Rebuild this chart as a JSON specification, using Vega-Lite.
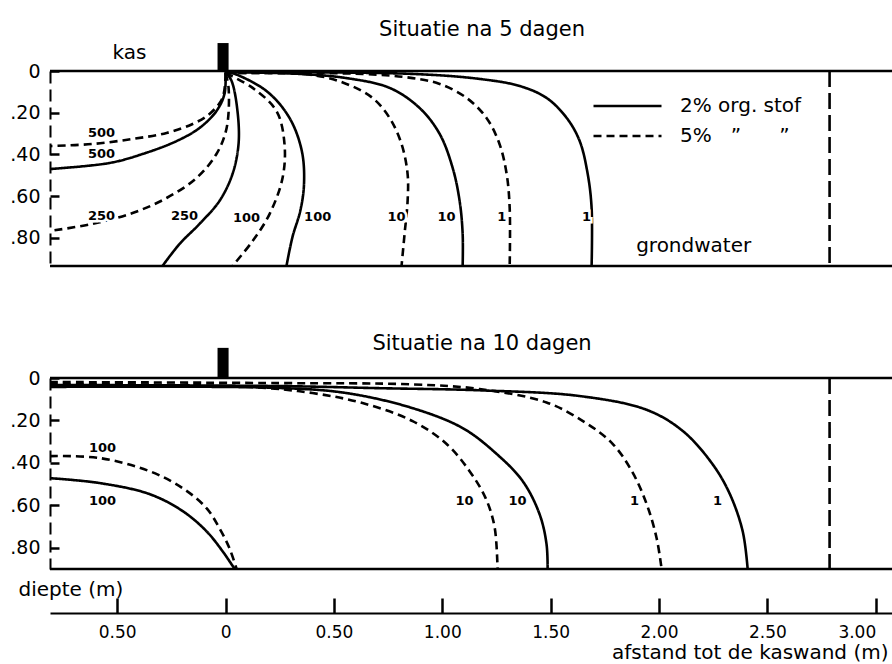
{
  "$schema": "https://vega.github.io/schema/vega-lite/v6.json",
  "background": "white",
  "padding": {"left": 9, "top": 19, "right": 0, "bottom": 0},
  "spacing": 60,
  "config": {
    "font": "DejaVu Sans",
    "view": {"stroke": null},
    "axis": {"labelFont": "DejaVu Sans", "labelColor": "black", "domainColor": "black", "tickColor": "black", "grid": false, "titleColor": "black", "titleFont": "DejaVu Sans", "titleFontWeight": "normal", "ticks": true},
    "legend": {"labelFont": "DejaVu Sans", "labelColor": "black"},
    "title": {"font": "DejaVu Sans", "fontWeight": "normal", "color": "black"}
  },
  "resolve": {"scale": {"strokeDash": "independent"}, "legend": {"strokeDash": "independent"}},
  "datasets": {
    "c5": [
      {"conc": "500", "org": "2%", "i": 0, "x": 0, "y": 0.005},
      {"conc": "500", "org": "2%", "i": 1, "x": -0.005, "y": 0.110},
      {"conc": "500", "org": "2%", "i": 2, "x": -0.042, "y": 0.192},
      {"conc": "500", "org": "2%", "i": 3, "x": -0.12, "y": 0.273},
      {"conc": "500", "org": "2%", "i": 4, "x": -0.226, "y": 0.336},
      {"conc": "500", "org": "2%", "i": 5, "x": -0.383, "y": 0.398},
      {"conc": "500", "org": "2%", "i": 6, "x": -0.535, "y": 0.441},
      {"conc": "500", "org": "2%", "i": 7, "x": -0.81, "y": 0.470},
      {"conc": "500", "org": "5%", "i": 0, "x": 0, "y": 0.010},
      {"conc": "500", "org": "5%", "i": 1, "x": -0.014, "y": 0.129},
      {"conc": "500", "org": "5%", "i": 2, "x": -0.074, "y": 0.206},
      {"conc": "500", "org": "5%", "i": 3, "x": -0.152, "y": 0.254},
      {"conc": "500", "org": "5%", "i": 4, "x": -0.272, "y": 0.297},
      {"conc": "500", "org": "5%", "i": 5, "x": -0.429, "y": 0.326},
      {"conc": "500", "org": "5%", "i": 6, "x": -0.614, "y": 0.350},
      {"conc": "500", "org": "5%", "i": 7, "x": -0.81, "y": 0.360},
      {"conc": "250", "org": "2%", "i": 0, "x": 0, "y": 0.005},
      {"conc": "250", "org": "2%", "i": 1, "x": 0.028, "y": 0.048},
      {"conc": "250", "org": "2%", "i": 2, "x": 0.055, "y": 0.192},
      {"conc": "250", "org": "2%", "i": 3, "x": 0.060, "y": 0.350},
      {"conc": "250", "org": "2%", "i": 4, "x": 0.032, "y": 0.494},
      {"conc": "250", "org": "2%", "i": 5, "x": -0.028, "y": 0.623},
      {"conc": "250", "org": "2%", "i": 6, "x": -0.120, "y": 0.733},
      {"conc": "250", "org": "2%", "i": 7, "x": -0.212, "y": 0.829},
      {"conc": "250", "org": "2%", "i": 8, "x": -0.291, "y": 0.935},
      {"conc": "250", "org": "5%", "i": 0, "x": 0, "y": 0.010},
      {"conc": "250", "org": "5%", "i": 1, "x": 0.014, "y": 0.081},
      {"conc": "250", "org": "5%", "i": 2, "x": 0.005, "y": 0.273},
      {"conc": "250", "org": "5%", "i": 3, "x": -0.042, "y": 0.398},
      {"conc": "250", "org": "5%", "i": 4, "x": -0.134, "y": 0.513},
      {"conc": "250", "org": "5%", "i": 5, "x": -0.272, "y": 0.609},
      {"conc": "250", "org": "5%", "i": 6, "x": -0.429, "y": 0.681},
      {"conc": "250", "org": "5%", "i": 7, "x": -0.614, "y": 0.733},
      {"conc": "250", "org": "5%", "i": 8, "x": -0.81, "y": 0.767},
      {"conc": "100", "org": "2%", "i": 0, "x": 0, "y": 0.005},
      {"conc": "100", "org": "2%", "i": 1, "x": 0.032, "y": 0.010},
      {"conc": "100", "org": "2%", "i": 2, "x": 0.189, "y": 0.096},
      {"conc": "100", "org": "2%", "i": 3, "x": 0.295, "y": 0.225},
      {"conc": "100", "org": "2%", "i": 4, "x": 0.352, "y": 0.384},
      {"conc": "100", "org": "2%", "i": 5, "x": 0.362, "y": 0.542},
      {"conc": "100", "org": "2%", "i": 6, "x": 0.345, "y": 0.670},
      {"conc": "100", "org": "2%", "i": 7, "x": 0.309, "y": 0.795},
      {"conc": "100", "org": "2%", "i": 8, "x": 0.281, "y": 0.935},
      {"conc": "100", "org": "5%", "i": 0, "x": 0, "y": 0.010},
      {"conc": "100", "org": "5%", "i": 1, "x": 0.125, "y": 0.081},
      {"conc": "100", "org": "5%", "i": 2, "x": 0.235, "y": 0.192},
      {"conc": "100", "org": "5%", "i": 3, "x": 0.272, "y": 0.350},
      {"conc": "100", "org": "5%", "i": 4, "x": 0.263, "y": 0.513},
      {"conc": "100", "org": "5%", "i": 5, "x": 0.203, "y": 0.686},
      {"conc": "100", "org": "5%", "i": 6, "x": 0.125, "y": 0.815},
      {"conc": "100", "org": "5%", "i": 7, "x": 0.032, "y": 0.935},
      {"conc": "10", "org": "2%", "i": 0, "x": 0, "y": 0.005},
      {"conc": "10", "org": "2%", "i": 1, "x": 0.341, "y": 0.014},
      {"conc": "10", "org": "2%", "i": 2, "x": 0.558, "y": 0.034},
      {"conc": "10", "org": "2%", "i": 3, "x": 0.757, "y": 0.081},
      {"conc": "10", "org": "2%", "i": 4, "x": 0.895, "y": 0.177},
      {"conc": "10", "org": "2%", "i": 5, "x": 0.988, "y": 0.302},
      {"conc": "10", "org": "2%", "i": 6, "x": 1.048, "y": 0.465},
      {"conc": "10", "org": "2%", "i": 7, "x": 1.080, "y": 0.623},
      {"conc": "10", "org": "2%", "i": 8, "x": 1.094, "y": 0.781},
      {"conc": "10", "org": "2%", "i": 9, "x": 1.094, "y": 0.935},
      {"conc": "10", "org": "5%", "i": 0, "x": 0, "y": 0.010},
      {"conc": "10", "org": "5%", "i": 1, "x": 0.401, "y": 0.019},
      {"conc": "10", "org": "5%", "i": 2, "x": 0.558, "y": 0.062},
      {"conc": "10", "org": "5%", "i": 3, "x": 0.678, "y": 0.129},
      {"conc": "10", "org": "5%", "i": 4, "x": 0.757, "y": 0.225},
      {"conc": "10", "org": "5%", "i": 5, "x": 0.812, "y": 0.350},
      {"conc": "10", "org": "5%", "i": 6, "x": 0.840, "y": 0.494},
      {"conc": "10", "org": "5%", "i": 7, "x": 0.840, "y": 0.623},
      {"conc": "10", "org": "5%", "i": 8, "x": 0.826, "y": 0.781},
      {"conc": "10", "org": "5%", "i": 9, "x": 0.812, "y": 0.935},
      {"conc": "1", "org": "2%", "i": 0, "x": 0, "y": 0.005},
      {"conc": "1", "org": "2%", "i": 1, "x": 0.863, "y": 0.014},
      {"conc": "1", "org": "2%", "i": 2, "x": 1.172, "y": 0.038},
      {"conc": "1", "org": "2%", "i": 3, "x": 1.357, "y": 0.072},
      {"conc": "1", "org": "2%", "i": 4, "x": 1.481, "y": 0.129},
      {"conc": "1", "org": "2%", "i": 5, "x": 1.574, "y": 0.225},
      {"conc": "1", "org": "2%", "i": 6, "x": 1.634, "y": 0.336},
      {"conc": "1", "org": "2%", "i": 7, "x": 1.671, "y": 0.494},
      {"conc": "1", "org": "2%", "i": 8, "x": 1.689, "y": 0.657},
      {"conc": "1", "org": "2%", "i": 9, "x": 1.689, "y": 0.935},
      {"conc": "1", "org": "5%", "i": 0, "x": 0, "y": 0.010},
      {"conc": "1", "org": "5%", "i": 1, "x": 0.632, "y": 0.014},
      {"conc": "1", "org": "5%", "i": 2, "x": 0.863, "y": 0.034},
      {"conc": "1", "org": "5%", "i": 3, "x": 0.988, "y": 0.062},
      {"conc": "1", "org": "5%", "i": 4, "x": 1.112, "y": 0.129},
      {"conc": "1", "org": "5%", "i": 5, "x": 1.204, "y": 0.225},
      {"conc": "1", "org": "5%", "i": 6, "x": 1.264, "y": 0.350},
      {"conc": "1", "org": "5%", "i": 7, "x": 1.297, "y": 0.494},
      {"conc": "1", "org": "5%", "i": 8, "x": 1.311, "y": 0.657},
      {"conc": "1", "org": "5%", "i": 9, "x": 1.311, "y": 0.935}
    ],
    "c10": [
      {"conc": "100", "org": "2%", "i": 0, "x": -0.81, "y": 0.472},
      {"conc": "100", "org": "2%", "i": 1, "x": -0.581, "y": 0.495},
      {"conc": "100", "org": "2%", "i": 2, "x": -0.351, "y": 0.547},
      {"conc": "100", "org": "2%", "i": 3, "x": -0.198, "y": 0.627},
      {"conc": "100", "org": "2%", "i": 4, "x": -0.088, "y": 0.722},
      {"conc": "100", "org": "2%", "i": 5, "x": -0.014, "y": 0.816},
      {"conc": "100", "org": "2%", "i": 6, "x": 0.042, "y": 0.90},
      {"conc": "100", "org": "5%", "i": 0, "x": -0.81, "y": 0.368},
      {"conc": "100", "org": "5%", "i": 1, "x": -0.581, "y": 0.377},
      {"conc": "100", "org": "5%", "i": 2, "x": -0.351, "y": 0.439},
      {"conc": "100", "org": "5%", "i": 3, "x": -0.198, "y": 0.519},
      {"conc": "100", "org": "5%", "i": 4, "x": -0.088, "y": 0.613},
      {"conc": "100", "org": "5%", "i": 5, "x": -0.028, "y": 0.708},
      {"conc": "100", "org": "5%", "i": 6, "x": 0.018, "y": 0.802},
      {"conc": "100", "org": "5%", "i": 7, "x": 0.051, "y": 0.90},
      {"conc": "10", "org": "2%", "i": 0, "x": -0.81, "y": 0.042},
      {"conc": "10", "org": "2%", "i": 1, "x": 0.249, "y": 0.047},
      {"conc": "10", "org": "2%", "i": 2, "x": 0.558, "y": 0.071},
      {"conc": "10", "org": "2%", "i": 3, "x": 0.863, "y": 0.142},
      {"conc": "10", "org": "2%", "i": 4, "x": 1.094, "y": 0.236},
      {"conc": "10", "org": "2%", "i": 5, "x": 1.251, "y": 0.358},
      {"conc": "10", "org": "2%", "i": 6, "x": 1.371, "y": 0.486},
      {"conc": "10", "org": "2%", "i": 7, "x": 1.449, "y": 0.642},
      {"conc": "10", "org": "2%", "i": 8, "x": 1.481, "y": 0.783},
      {"conc": "10", "org": "2%", "i": 9, "x": 1.486, "y": 0.90},
      {"conc": "10", "org": "5%", "i": 0, "x": -0.81, "y": 0.028},
      {"conc": "10", "org": "5%", "i": 1, "x": 0.111, "y": 0.042},
      {"conc": "10", "org": "5%", "i": 2, "x": 0.401, "y": 0.071},
      {"conc": "10", "org": "5%", "i": 3, "x": 0.632, "y": 0.118},
      {"conc": "10", "org": "5%", "i": 4, "x": 0.863, "y": 0.203},
      {"conc": "10", "org": "5%", "i": 5, "x": 1.020, "y": 0.311},
      {"conc": "10", "org": "5%", "i": 6, "x": 1.126, "y": 0.439},
      {"conc": "10", "org": "5%", "i": 7, "x": 1.200, "y": 0.566},
      {"conc": "10", "org": "5%", "i": 8, "x": 1.241, "y": 0.700},
      {"conc": "10", "org": "5%", "i": 9, "x": 1.255, "y": 0.90},
      {"conc": "1", "org": "2%", "i": 0, "x": -0.81, "y": 0.033},
      {"conc": "1", "org": "2%", "i": 1, "x": 0.249, "y": 0.038},
      {"conc": "1", "org": "2%", "i": 2, "x": 0.711, "y": 0.048},
      {"conc": "1", "org": "2%", "i": 3, "x": 1.172, "y": 0.058},
      {"conc": "1", "org": "2%", "i": 4, "x": 1.634, "y": 0.085},
      {"conc": "1", "org": "2%", "i": 5, "x": 1.943, "y": 0.150},
      {"conc": "1", "org": "2%", "i": 6, "x": 2.110, "y": 0.250},
      {"conc": "1", "org": "2%", "i": 7, "x": 2.247, "y": 0.406},
      {"conc": "1", "org": "2%", "i": 8, "x": 2.326, "y": 0.545},
      {"conc": "1", "org": "2%", "i": 9, "x": 2.386, "y": 0.722},
      {"conc": "1", "org": "2%", "i": 10, "x": 2.409, "y": 0.90},
      {"conc": "1", "org": "5%", "i": 0, "x": -0.81, "y": 0.019},
      {"conc": "1", "org": "5%", "i": 1, "x": 0.249, "y": 0.024},
      {"conc": "1", "org": "5%", "i": 2, "x": 0.863, "y": 0.030},
      {"conc": "1", "org": "5%", "i": 3, "x": 1.172, "y": 0.052},
      {"conc": "1", "org": "5%", "i": 4, "x": 1.481, "y": 0.115},
      {"conc": "1", "org": "5%", "i": 5, "x": 1.660, "y": 0.210},
      {"conc": "1", "org": "5%", "i": 6, "x": 1.786, "y": 0.310},
      {"conc": "1", "org": "5%", "i": 7, "x": 1.878, "y": 0.445},
      {"conc": "1", "org": "5%", "i": 8, "x": 1.943, "y": 0.594},
      {"conc": "1", "org": "5%", "i": 9, "x": 1.989, "y": 0.755},
      {"conc": "1", "org": "5%", "i": 10, "x": 2.012, "y": 0.90}
    ],
    "lab5": [
      {"t": "500", "x": -0.572, "y": 0.297},
      {"t": "500", "x": -0.572, "y": 0.398},
      {"t": "250", "x": -0.572, "y": 0.695},
      {"t": "250", "x": -0.189, "y": 0.695},
      {"t": "100", "x": 0.097, "y": 0.705},
      {"t": "100", "x": 0.425, "y": 0.700},
      {"t": "10", "x": 0.789, "y": 0.700},
      {"t": "10", "x": 1.020, "y": 0.700},
      {"t": "1", "x": 1.274, "y": 0.700},
      {"t": "1", "x": 1.666, "y": 0.700}
    ],
    "lab10": [
      {"t": "100", "x": -0.568, "y": 0.33},
      {"t": "100", "x": -0.568, "y": 0.58},
      {"t": "10", "x": 1.103, "y": 0.58},
      {"t": "10", "x": 1.347, "y": 0.58},
      {"t": "1", "x": 1.887, "y": 0.58},
      {"t": "1", "x": 2.270, "y": 0.58}
    ]
  },
  "vconcat": [
    {
      "width": 842,
      "height": 195,
      "title": {"text": "Situatie na 5 dagen", "fontSize": 21, "anchor": "middle", "dx": 11, "offset": 3},
      "layer": [
        {
          "data": {"name": "c5"},
          "mark": {"type": "line", "color": "black", "strokeWidth": 2.6, "interpolate": "catmull-rom"},
          "encoding": {
            "x": {"field": "x", "type": "quantitative", "scale": {"domain": [-0.81, 3.075], "nice": false, "zero": false}, "axis": null},
            "y": {"field": "y", "type": "quantitative", "scale": {"domain": [0, 0.935], "reverse": true, "nice": false, "zero": false},
                  "axis": {"values": [0, 0.2, 0.4, 0.6, 0.8], "labelExpr": "datum.value == 0 ? '0' : replace(format(datum.value, '.2f'), '0.', '.')", "domainDash": [12, 6], "domainWidth": 2, "tickSize": -9, "tickWidth": 2.5, "labelFontSize": 19, "labelPadding": 19, "title": null}},
            "strokeDash": {"field": "org", "type": "nominal", "scale": {"domain": ["2%", "5%"], "range": [[1, 0], [8, 5]]},
                  "legend": {"orient": "none", "legendX": 542, "legendY": 25, "title": null, "symbolType": "stroke", "symbolSize": 4624, "symbolStrokeWidth": 2.6, "symbolStrokeColor": "black", "clipHeight": 20, "rowPadding": 10, "labelFontSize": 20, "labelOffset": 17, "padding": 0,
                    "labelExpr": "datum.value == '2%' ? '2% org. stof' : '5%\u00a0\u00a0\u00a0\u201d\u00a0\u00a0\u00a0\u00a0\u00a0\u00a0\u201d'"}},
            "detail": {"field": "conc"},
            "order": {"field": "i", "type": "quantitative"}
          }
        },
        {
          "data": {"values": [{"y": 0}, {"y": 0.935}]},
          "mark": {"type": "rule", "color": "black", "strokeWidth": 2.6},
          "encoding": {"y": {"field": "y", "type": "quantitative"}}
        },
        {
          "data": {"values": [{"x": 2.787}]},
          "mark": {"type": "rule", "color": "black", "strokeWidth": 2.6, "strokeDash": [16, 6]},
          "encoding": {"x": {"field": "x", "type": "quantitative"}}
        },
        {
          "data": {"values": [{"x": -0.037, "x2": 0.014, "y": -0.134, "y2": 0}]},
          "mark": {"type": "rect", "color": "black", "clip": false},
          "encoding": {
            "x": {"field": "x", "type": "quantitative"}, "x2": {"field": "x2"},
            "y": {"field": "y", "type": "quantitative"}, "y2": {"field": "y2"}
          }
        },
        {
          "data": {"name": "lab5"},
          "mark": {"type": "text", "fontSize": 13, "fontWeight": "bold", "fill": "white", "stroke": "white", "strokeWidth": 5},
          "encoding": {"x": {"field": "x", "type": "quantitative"}, "y": {"field": "y", "type": "quantitative"}, "text": {"field": "t"}}
        },
        {
          "data": {"name": "lab5"},
          "mark": {"type": "text", "fontSize": 13, "fontWeight": "bold", "color": "black"},
          "encoding": {"x": {"field": "x", "type": "quantitative"}, "y": {"field": "y", "type": "quantitative"}, "text": {"field": "t"}}
        },
        {
          "data": {"values": [{"t": "kas", "x": -0.443, "y": -0.086}, {"t": "grondwater", "x": 2.16, "y": 0.839}]},
          "mark": {"type": "text", "fontSize": 20, "color": "black", "clip": false},
          "encoding": {"x": {"field": "x", "type": "quantitative"}, "y": {"field": "y", "type": "quantitative"}, "text": {"field": "t"}}
        }
      ]
    },
    {
      "width": 842,
      "height": 191,
      "title": {"text": "Situatie na 10 dagen", "fontSize": 21, "anchor": "middle", "dx": 11, "offset": -6},
      "layer": [
        {
          "data": {"name": "c10"},
          "mark": {"type": "line", "color": "black", "strokeWidth": 2.6, "interpolate": "catmull-rom"},
          "encoding": {
            "x": {"field": "x", "type": "quantitative", "scale": {"domain": [-0.81, 3.075], "nice": false, "zero": false},
                  "axis": {"orient": "bottom", "offset": 44, "values": [-0.5, 0, 0.5, 1, 1.5, 2, 2.5, 3], "labelExpr": "datum.value == 0 ? '0' : format(abs(datum.value), '.2f')", "labelAlign": {"condition": {"test": "datum.value >= 3", "value": "right"}, "value": "center"}, "tickSize": -15, "tickWidth": 2.5, "domainWidth": 2, "labelFontSize": 17, "labelPadding": 26, "title": "afstand tot de kaswand (m)", "titleAnchor": "end", "titleFontSize": 20, "titlePadding": 2, "titleX": 838}},
            "y": {"field": "y", "type": "quantitative", "scale": {"domain": [0, 0.90], "reverse": true, "nice": false, "zero": false},
                  "axis": {"values": [0, 0.2, 0.4, 0.6, 0.8], "labelExpr": "datum.value == 0 ? '0' : replace(format(datum.value, '.2f'), '0.', '.')", "domainDash": [12, 6], "domainWidth": 2, "tickSize": -9, "tickWidth": 2.5, "labelFontSize": 19, "labelPadding": 19,
                    "title": "diepte (m)", "titleAngle": 0, "titleX": -32, "titleY": 211, "titleAlign": "left", "titleBaseline": "middle", "titleFontSize": 20}},
            "strokeDash": {"field": "org", "type": "nominal", "scale": {"domain": ["2%", "5%"], "range": [[1, 0], [8, 5]]}, "legend": null},
            "detail": {"field": "conc"},
            "order": {"field": "i", "type": "quantitative"}
          }
        },
        {
          "data": {"values": [{"y": 0}, {"y": 0.90}]},
          "mark": {"type": "rule", "color": "black", "strokeWidth": 2.6},
          "encoding": {"y": {"field": "y", "type": "quantitative"}}
        },
        {
          "data": {"values": [{"x": 2.787}]},
          "mark": {"type": "rule", "color": "black", "strokeWidth": 2.6, "strokeDash": [16, 6]},
          "encoding": {"x": {"field": "x", "type": "quantitative"}}
        },
        {
          "data": {"values": [{"x": -0.037, "x2": 0.014, "y": -0.142, "y2": 0}]},
          "mark": {"type": "rect", "color": "black", "clip": false},
          "encoding": {
            "x": {"field": "x", "type": "quantitative"}, "x2": {"field": "x2"},
            "y": {"field": "y", "type": "quantitative"}, "y2": {"field": "y2"}
          }
        },
        {
          "data": {"name": "lab10"},
          "mark": {"type": "text", "fontSize": 13, "fontWeight": "bold", "fill": "white", "stroke": "white", "strokeWidth": 5},
          "encoding": {"x": {"field": "x", "type": "quantitative"}, "y": {"field": "y", "type": "quantitative"}, "text": {"field": "t"}}
        },
        {
          "data": {"name": "lab10"},
          "mark": {"type": "text", "fontSize": 13, "fontWeight": "bold", "color": "black"},
          "encoding": {"x": {"field": "x", "type": "quantitative"}, "y": {"field": "y", "type": "quantitative"}, "text": {"field": "t"}}
        }
      ]
    }
  ]
}
